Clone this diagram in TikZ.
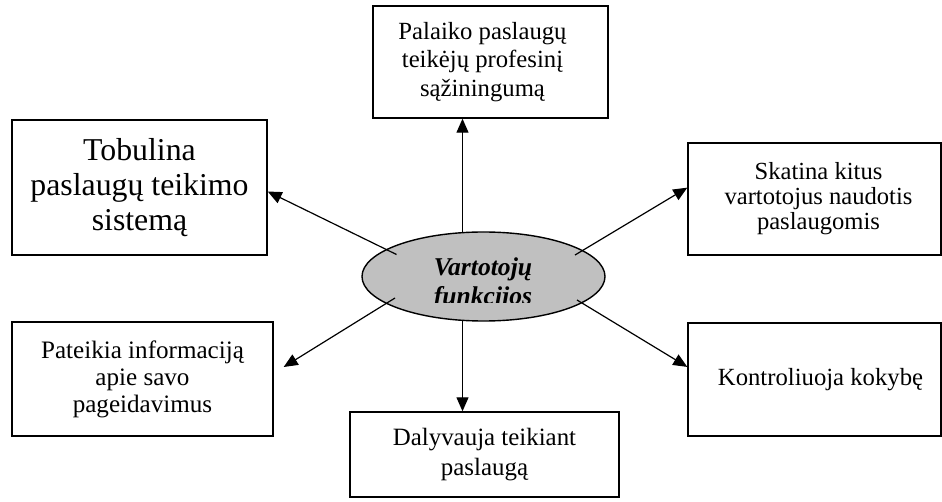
\documentclass[tikz,border=0pt]{standalone}
\usepackage{fontspec}
\setmainfont{Liberation Serif}
\usetikzlibrary{shapes.geometric,arrows.meta,calc}
\definecolor{ovalfill}{RGB}{192,192,192}
\begin{document}
\begin{tikzpicture}[x=1pt,y=-1pt,
  box/.style={draw, line width=1.4pt, rectangle, inner sep=0pt, align=center},
  label text/.style={align=center, inner sep=0pt},
  link/.style={line width=1.2pt, -{Triangle[length=14pt,width=12pt]}},
  ]
\useasboundingbox[fill=white] (0,0) rectangle (942,502);

% outer boxes
\node[box, minimum width=235pt, minimum height=112pt] (pal) at (490.5,62) {};
\node[label text, font=\fontsize{24.7}{28.5}\selectfont] (paltxt) at ($(pal.center)+(-8,0)$)
  {Palaiko paslaugų\\teikėjų profesinį\\sąžiningumą};

\node[box, font=\fontsize{31.8}{35}\selectfont, minimum width=255pt, minimum height=135pt] (tob) at (139.5,187.5)
  {Tobulina\\paslaugų teikimo\\sistemą};

\node[box, minimum width=253pt, minimum height=112pt] (sk) at (814.5,199) {};
\node[label text, font=\fontsize{24.6}{25}\selectfont] (sktxt) at ($(sk.center)+(4,0)$)
  {Skatina kitus\\vartotojus naudotis\\paslaugomis};

\node[box, minimum width=253pt, minimum height=113pt] (kon) at (814.5,379.5) {};
\node[label text, font=\fontsize{24.7}{28.5}\selectfont] (kontxt) at ($(kon.center)+(6,0)$)
  {Kontroliuoja kokybę};

\node[box, font=\fontsize{25.1}{27}\selectfont, minimum width=261pt, minimum height=114pt] (pat) at (142.5,379)
  {Pateikia informaciją\\apie savo\\pageidavimus};

\node[box, font=\fontsize{24.9}{30}\selectfont, minimum width=269pt, minimum height=85pt] (dal) at (484.5,454.5)
  {Dalyvauja teikiant\\paslaugą};

% central oval
\node[ellipse, draw, line width=1.4pt, fill=ovalfill, minimum width=243pt, minimum height=89pt, inner sep=0pt] (ell) at (483.5,276.5) {};

% connectors
\coordinate (vtop) at ($(ell.center)+(-21,-44)$);
\coordinate (vbot) at ($(ell.center)+(-21,44)$);
\draw[link] (vtop) -- (vtop |- pal.south);
\draw[link] (vbot) -- (vbot |- dal.north);
\draw[link] ($(ell.center)+(-87,-22)$) -- ($(tob.east)+(0,4)$);
\draw[link] ($(ell.center)+(91.5,-21.5)$) -- ($(sk.north west)!0.4!(sk.south west)$);
\draw[link] ($(ell.center)+(-88.5,21.5)$) -- ($(pat.east)+(10,-12)$);
\draw[link] ($(ell.center)+(93.5,23.5)$) -- ($(kon.north west)!0.39!(kon.south west)$);

% oval caption, cut off at the bottom edge of its frame
\begin{scope}
  \clip (362,220) rectangle (605,303);
  \node[font=\fontsize{25.6}{29.5}\selectfont\bfseries\itshape, align=center] (elltxt) at (483,284)
    {Vartotojų\\funkcijos};
\end{scope}
\end{tikzpicture}
\end{document}
